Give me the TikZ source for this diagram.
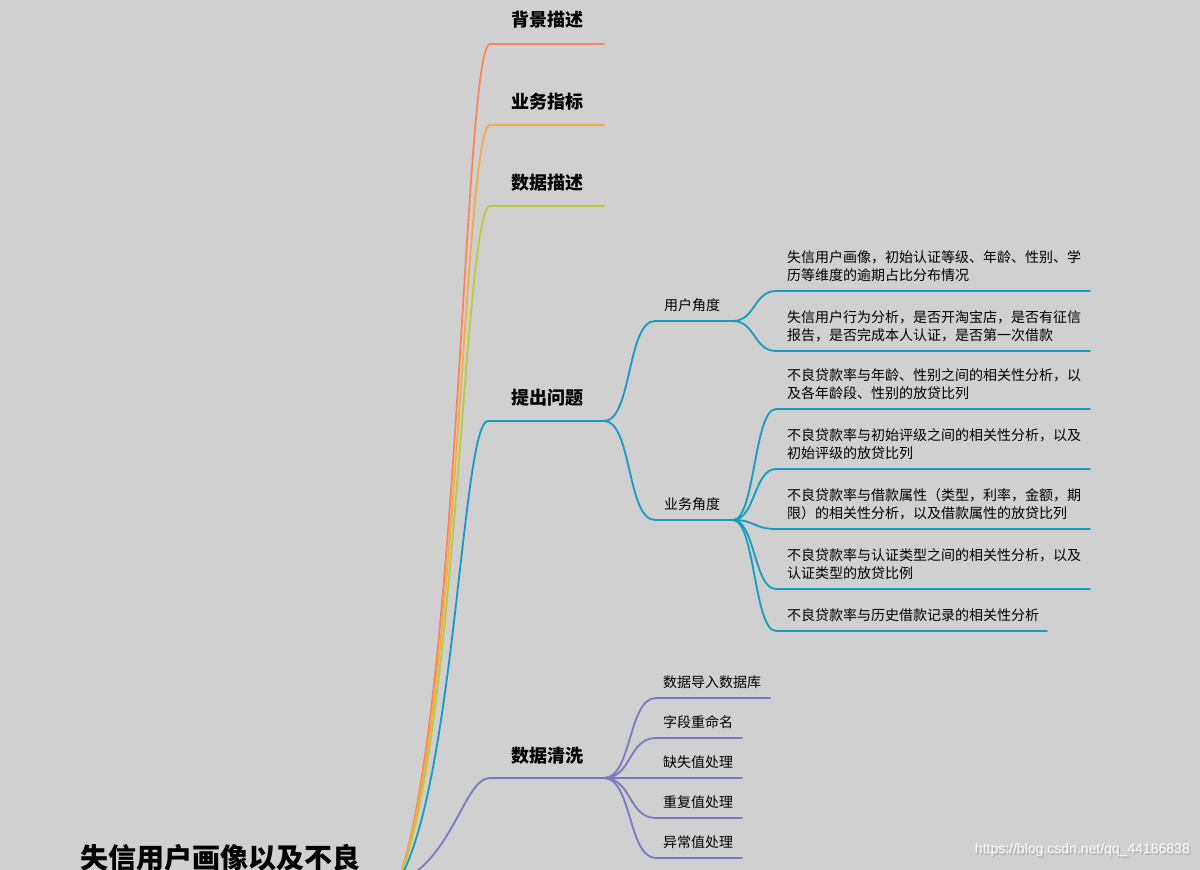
\documentclass[tikz,border=0pt]{standalone}
\usepackage{fontspec}
\setmainfont{Noto Sans CJK SC}
\newfontfamily\wmfont{Liberation Sans}
\definecolor{bgc}{RGB}{208,208,208}
\definecolor{corange}{RGB}{248,134,92}
\definecolor{cyellow}{RGB}{247,170,72}
\definecolor{cgreen}{RGB}{190,201,62}
\definecolor{cteal}{RGB}{22,156,190}
\definecolor{cpurple}{RGB}{124,120,194}
\tikzset{
  br/.style={line width=1.8pt, line cap=round},
  maintext/.style={font=\fontsize{18}{22}\selectfont\bfseries, inner sep=0pt},
  subtext/.style={font=\fontsize{14}{18}\selectfont, inner sep=0pt, anchor=west},
  leaftext/.style={font=\fontsize{14}{18}\selectfont, inner sep=0pt, anchor=west, align=left},
}
\begin{document}
\begin{tikzpicture}[x=1pt,y=-1pt]
\fill[bgc] (0,0) rectangle (1200,870);
\useasboundingbox (0,0) rectangle (1200,870);

% root
\node[font=\fontsize{28}{32}\selectfont\bfseries, inner sep=0pt, anchor=west] (root) at (80,858) {失信用户画像以及不良};
\coordinate (r) at (398,882);

% main branch coordinates
\coordinate (b1s) at (490,44);  \coordinate (b1e) at (604,44);
\coordinate (b2s) at (490,125); \coordinate (b2e) at (604,125);
\coordinate (b3s) at (490,206); \coordinate (b3e) at (604,206);
\coordinate (b4s) at (488,421); \coordinate (b4e) at (604,421);
\coordinate (b5s) at (490,778); \coordinate (b5e) at (604,778);

\draw[br,corange] (r) .. controls +(61,-169) and +(-26,0) .. (b1s) -- (b1e);
\draw[br,cyellow] (r) .. controls +(60,-153) and +(-26,0) .. (b2s) -- (b2e);
\draw[br,cgreen]  (r) .. controls +(59,-137) and +(-26,0) .. (b3s) -- (b3e);
\draw[br,cteal]   (r) .. controls +(57,-94) and +(-26,0) .. (b4s) -- (b4e);
\draw[br,cpurple] (r) .. controls +(55,-22) and +(-26,0) .. (b5s) -- (b5e);

\node[maintext] (t1) at (547,20) {背景描述};
\node[maintext] (t2) at (547,102) {业务指标};
\node[maintext] (t3) at (547,183) {数据描述};
\node[maintext] (t4) at (547,398) {提出问题};
\node[maintext] (t5) at (547,756) {数据清洗};

% 提出问题 sub branches
\coordinate (u1s) at (655,321); \coordinate (u1e) at (733,321);
\coordinate (u2s) at (655,520); \coordinate (u2e) at (733,520);
\draw[br,cteal] (b4e) .. controls +(28,0) and +(-28,0) .. (u1s) -- (u1e);
\draw[br,cteal] (b4e) .. controls +(28,0) and +(-28,0) .. (u2s) -- (u2e);
\node[subtext] (ut1) at (664,305) {用户角度};
\node[subtext] (ut2) at (664,504) {业务角度};

% 用户角度 leaves
\coordinate (l1s) at (776,291); \coordinate (l1e) at (1090,291);
\coordinate (l2s) at (776,351); \coordinate (l2e) at (1090,351);
\draw[br,cteal] (u1e) .. controls +(22,0) and +(-22,0) .. (l1s) -- (l1e);
\draw[br,cteal] (u1e) .. controls +(22,0) and +(-22,0) .. (l2s) -- (l2e);
\node[leaftext] (lt1) at (787,266) {失信用户画像，初始认证等级、年龄、性别、学\\历等维度的逾期占比分布情况};
\node[leaftext] (lt2) at (787,326) {失信用户行为分析，是否开淘宝店，是否有征信\\报告，是否完成本人认证，是否第一次借款};

% 业务角度 leaves
\coordinate (m1s) at (776,409); \coordinate (m1e) at (1090,409);
\coordinate (m2s) at (776,469); \coordinate (m2e) at (1090,469);
\coordinate (m3s) at (776,529); \coordinate (m3e) at (1090,529);
\coordinate (m4s) at (776,589); \coordinate (m4e) at (1090,589);
\coordinate (m5s) at (776,631); \coordinate (m5e) at (1047,631);
\foreach \i in {1,...,5}{
  \draw[br,cteal] (u2e) .. controls +(22,0) and +(-22,0) .. (m\i s) -- (m\i e);
}
\node[leaftext] (mt1) at (787,384) {不良贷款率与年龄、性别之间的相关性分析，以\\及各年龄段、性别的放贷比列};
\node[leaftext] (mt2) at (787,444) {不良贷款率与初始评级之间的相关性分析，以及\\初始评级的放贷比列};
\node[leaftext] (mt3) at (787,504) {不良贷款率与借款属性（类型，利率，金额，期\\限）的相关性分析，以及借款属性的放贷比列};
\node[leaftext] (mt4) at (787,564) {不良贷款率与认证类型之间的相关性分析，以及\\认证类型的放贷比例};
\node[leaftext] (mt5) at (787,615) {不良贷款率与历史借款记录的相关性分析};

% 数据清洗 leaves
\coordinate (c1s) at (656,698); \coordinate (c1e) at (770,698);
\coordinate (c2s) at (656,738); \coordinate (c2e) at (742,738);
\coordinate (c3s) at (656,778); \coordinate (c3e) at (742,778);
\coordinate (c4s) at (656,818); \coordinate (c4e) at (742,818);
\coordinate (c5s) at (656,858); \coordinate (c5e) at (742,858);
\foreach \i in {1,...,5}{
  \draw[br,cpurple] (b5e) .. controls +(28,0) and +(-28,0) .. (c\i s) -- (c\i e);
}
\node[subtext] (ct1) at (663,682) {数据导入数据库};
\node[subtext] (ct2) at (663,722) {字段重命名};
\node[subtext] (ct3) at (663,762) {缺失值处理};
\node[subtext] (ct4) at (663,802) {重复值处理};
\node[subtext] (ct5) at (663,842) {异常值处理};

% watermark
\node[font=\wmfont\fontsize{14}{16}\selectfont, text=gray!60, inner sep=0pt, anchor=east] at (1191.5,851.5) {https://blog.csdn.net/qq\_44186838};
\node[font=\wmfont\fontsize{14}{16}\selectfont, text=white!96!gray, inner sep=0pt, anchor=east] (wm) at (1190,850) {https://blog.csdn.net/qq\_44186838};
\end{tikzpicture}
\end{document}
